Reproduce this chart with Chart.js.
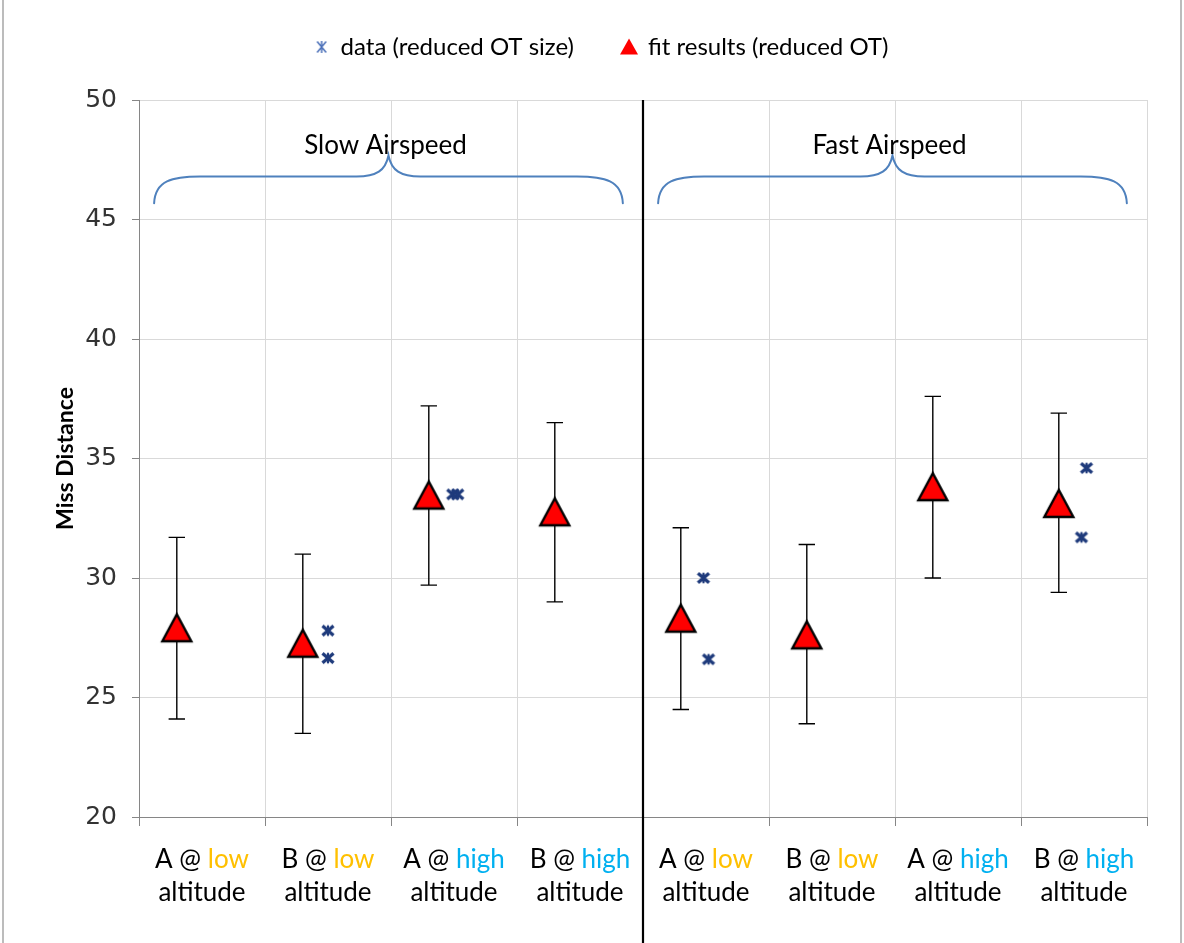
<!DOCTYPE html>
<html>
<head>
<meta charset="utf-8">
<script src="https://cdn.jsdelivr.net/npm/chart.js@4.4.1/dist/chart.umd.min.js"></script>
<style>
  html, body { margin: 0; padding: 0; background: #ffffff; }
  #wrap { width: 1184px; height: 943px; position: relative; }
</style>
</head>
<body>
<div id="wrap"><canvas id="chart" width="1184" height="943"></canvas></div>
<script>
// ---- chart data ----
const aircraft = ['A', 'B', 'A', 'B', 'A', 'B', 'A', 'B'];
const altitudes = ['low', 'low', 'high', 'high', 'low', 'low', 'high', 'high'];
const altitudeWord = 'altitude';
const groupNames = ['Slow Airspeed', 'Fast Airspeed'];
const groupFirstCategory = [1, 5];
const groupLastCategory = [4, 8];
const seriesNames = ['data (reduced OT size)', 'fit results (reduced OT)'];

// fitted values with their interval bounds, one per category
const fitValues = [27.9, 27.25, 33.45, 32.75, 28.3, 27.6, 33.8, 33.1];
const fitLower  = [24.1, 23.5, 29.7, 29.0, 24.5, 23.9, 30.0, 29.4];
const fitUpper  = [31.7, 31.0, 37.2, 36.5, 32.1, 31.4, 37.6, 36.9];

// observed points: category position and value
const obsPositions = [2, 2, 2.99, 3.03, 4.98, 5.02, 8.02, 7.98];
const obsValues    = [27.8, 26.65, 33.5, 33.5, 30.0, 26.6, 34.6, 31.7];

const yTickValues = [20, 25, 30, 35, 40, 45, 50];

// ---- styling ----
const FONT = 'Lato, "Open Sans", sans-serif';
const altitudeColors = { low: '#FFC000', high: '#00B0F0' };
const fitShift = -0.2;      // fitted marker sits left of the category centre
const capHalf = 0.065;      // half width of the error-bar caps, category units
const legendLift = 31;      // legend drawn higher than its layout slot
const legendSlide = 28;     // and a little to the right

// marker images
function makeTriangle(size, halfW, up, down, fill, stroke, lw) {
  const c = document.createElement('canvas');
  c.width = size; c.height = size;
  const g = c.getContext('2d');
  const m = size / 2;
  g.beginPath();
  g.moveTo(m, m - up);
  g.lineTo(m + halfW, m + down);
  g.lineTo(m - halfW, m + down);
  g.closePath();
  g.fillStyle = fill;
  g.fill();
  if (lw > 0) {
    g.lineWidth = lw;
    g.strokeStyle = stroke;
    g.lineJoin = 'miter';
    g.stroke();
  }
  return c;
}
function makeStar(size, hw, hh, color, lwX, lwV) {
  const c = document.createElement('canvas');
  c.width = size; c.height = size;
  const g = c.getContext('2d');
  const m = size / 2;
  g.strokeStyle = color;
  g.lineCap = 'butt';
  g.lineWidth = lwX;
  g.beginPath();
  g.moveTo(m - hw, m - hh); g.lineTo(m + hw, m + hh);
  g.moveTo(m + hw, m - hh); g.lineTo(m - hw, m + hh);
  g.stroke();
  g.lineWidth = lwV;
  g.beginPath();
  g.moveTo(m, m - hh - 0.5); g.lineTo(m, m + hh + 0.5);
  g.stroke();
  return c;
}
const fitMarker = makeTriangle(38, 14.5, 14, 13, '#FF0000', '#000000', 2.4);
const obsMarker = makeStar(18, 5.5, 4.8, '#1F3B7C', 3.4, 2.2);
const legendTriangle = makeTriangle(22, 9, 8.5, 7.5, '#FF0000', '#FF0000', 0);
const legendStar = makeStar(18, 4.5, 5.5, '#4A6FB8', 1.5, 1.5);

// error bars as one broken line: caps and stems separated by gaps
const errorSegments = [];
fitValues.forEach((v, i) => {
  const x = i + 1 + fitShift;
  errorSegments.push(
    { x: x - capHalf, y: fitUpper[i] }, { x: x + capHalf, y: fitUpper[i] }, { x: x, y: null },
    { x: x, y: fitUpper[i] }, { x: x, y: fitLower[i] }, { x: x, y: null },
    { x: x - capHalf, y: fitLower[i] }, { x: x + capHalf, y: fitLower[i] }, { x: x, y: null }
  );
});

const categoryBounds = [];
for (let b = 0.5; b <= aircraft.length + 0.5; b += 1) categoryBounds.push(b);

// braces, group captions, speed divider, two-colour category labels and frame
const annotationPlugin = {
  id: 'annotations',
  afterLayout(chart) {
    const lg = chart.legend;
    if (lg) {
      lg.left += legendSlide; lg.right += legendSlide;
      lg.top -= legendLift; lg.bottom -= legendLift;
    }
  },
  afterDraw(chart) {
    const ctx = chart.ctx;
    const xs = chart.scales.x, ys = chart.scales.y;
    const area = chart.chartArea;

    // curly braces over each speed group
    ctx.save();
    ctx.strokeStyle = '#4F81BD';
    ctx.lineWidth = 2;
    ctx.lineCap = 'round';
    groupNames.forEach((name, g) => {
      const x0 = xs.getPixelForValue(groupFirstCategory[g] - 0.5 + 0.12);
      const x1 = xs.getPixelForValue(groupLastCategory[g] + 0.5 - 0.16);
      const xc = (x0 + x1) / 2;
      const yEnd = ys.getPixelForValue(45.68);
      const yMid = ys.getPixelForValue(46.8);
      const yTip = ys.getPixelForValue(47.68);
      ctx.beginPath();
      ctx.moveTo(x0, yEnd);
      ctx.bezierCurveTo(x0 + 1, yMid + 4, x0 + 18, yMid, x0 + 46, yMid);
      ctx.lineTo(xc - 32, yMid);
      ctx.bezierCurveTo(xc - 12, yMid, xc - 3, yMid - 6, xc, yTip);
      ctx.bezierCurveTo(xc + 3, yMid - 6, xc + 12, yMid, xc + 32, yMid);
      ctx.lineTo(x1 - 46, yMid);
      ctx.bezierCurveTo(x1 - 18, yMid, x1 - 1, yMid + 4, x1, yEnd);
      ctx.stroke();

      ctx.fillStyle = '#000000';
      ctx.font = '26px ' + FONT;
      ctx.textAlign = 'center';
      ctx.textBaseline = 'middle';
      ctx.fillText(name, xc - 3, yTip - 10);
    });
    ctx.restore();

    // divider between slow and fast groups
    ctx.save();
    ctx.strokeStyle = '#000000';
    ctx.lineWidth = 2.2;
    const xd = Math.round(xs.getPixelForValue(groupLastCategory[0] + 0.5));
    ctx.beginPath();
    ctx.moveTo(xd, area.top);
    ctx.lineTo(xd, chart.height);
    ctx.stroke();
    ctx.restore();

    // category labels: "A @ low" / "altitude"
    ctx.save();
    ctx.font = '26px ' + FONT;
    ctx.textBaseline = 'middle';
    ctx.textAlign = 'left';
    aircraft.forEach((a, i) => {
      const cx = xs.getPixelForValue(i + 1);
      const head = a + ' @ ';
      const alt = altitudes[i];
      const wHead = ctx.measureText(head).width;
      const wAlt = ctx.measureText(alt).width;
      const x = cx - (wHead + wAlt) / 2;
      const y1 = area.bottom + 43;
      const y2 = area.bottom + 76;
      ctx.fillStyle = '#000000';
      ctx.fillText(head, x, y1);
      ctx.fillStyle = altitudeColors[alt];
      ctx.fillText(alt, x + wHead, y1);
      const wAw = ctx.measureText(altitudeWord).width;
      ctx.fillStyle = '#000000';
      ctx.fillText(altitudeWord, cx - wAw / 2, y2);
    });
    ctx.restore();

    // outer frame sides
    ctx.save();
    ctx.strokeStyle = '#A6A6A6';
    ctx.lineWidth = 1.5;
    ctx.beginPath();
    ctx.moveTo(3, 0); ctx.lineTo(3, chart.height);
    ctx.moveTo(chart.width - 3, 0); ctx.lineTo(chart.width - 3, chart.height);
    ctx.stroke();
    ctx.restore();
  }
};

Chart.defaults.font.family = FONT;
Chart.defaults.color = '#000000';

new Chart(document.getElementById('chart'), {
  type: 'scatter',
  data: {
    datasets: [
      {
        label: seriesNames[1],
        data: fitValues.map((v, i) => ({ x: i + 1 + fitShift, y: v })),
        pointStyle: fitMarker,
        pointRadius: 14,
        showLine: false,
        order: 0
      },
      {
        label: seriesNames[0],
        data: obsValues.map((v, i) => ({ x: obsPositions[i], y: v })),
        pointStyle: obsMarker,
        pointRadius: 7,
        showLine: false,
        order: 1
      },
      {
        label: 'interval',
        data: errorSegments,
        showLine: true,
        spanGaps: false,
        borderColor: '#000000',
        borderWidth: 1.4,
        pointRadius: 0,
        pointHoverRadius: 0,
        order: 2
      }
    ]
  },
  options: {
    responsive: false,
    animation: false,
    devicePixelRatio: 1,
    events: [],
    layout: { padding: { top: 18, right: 37, bottom: 0, left: 0 } },
    plugins: {
      tooltip: { enabled: false },
      legend: {
        position: 'top',
        align: 'center',
        labels: {
          usePointStyle: true,
          boxWidth: 14,
          boxHeight: 14,
          padding: 48,
          color: '#000000',
          font: { size: 24, family: FONT },
          generateLabels() {
            return [
              { text: seriesNames[0], pointStyle: legendStar, fillStyle: '#4A6FB8', strokeStyle: '#4A6FB8', lineWidth: 0, hidden: false, datasetIndex: 1 },
              { text: seriesNames[1], pointStyle: legendTriangle, fillStyle: '#FF0000', strokeStyle: '#FF0000', lineWidth: 0, hidden: false, datasetIndex: 0 }
            ];
          }
        }
      }
    },
    scales: {
      x: {
        type: 'linear',
        min: 0.5,
        max: aircraft.length + 0.5,
        afterBuildTicks(scale) { scale.ticks = categoryBounds.map(v => ({ value: v })); },
        afterFit(scale) { scale.height = 126; },
        ticks: { display: false },
        grid: { color: '#D9D9D9', lineWidth: 1, tickColor: '#868686', tickLength: 9, drawTicks: true },
        border: { color: '#868686', width: 1 }
      },
      y: {
        type: 'linear',
        min: 20,
        max: 50,
        afterBuildTicks(scale) { scale.ticks = yTickValues.map(v => ({ value: v })); },
        afterFit(scale) { scale.width = 139; },
        ticks: {
          color: '#333333',
          padding: 15,
          font: { size: 25, family: '"DejaVu Sans", Verdana, sans-serif' }
        },
        grid: { color: '#D9D9D9', lineWidth: 1, tickColor: '#868686', tickLength: 7 },
        border: { color: '#868686', width: 1 },
        title: {
          display: true,
          text: 'Miss Distance',
          color: '#000000',
          font: { size: 23, weight: 'bold', family: FONT },
          padding: { top: 52, bottom: 0 }
        }
      }
    }
  },
  plugins: [annotationPlugin]
});
</script>
</body>
</html>
